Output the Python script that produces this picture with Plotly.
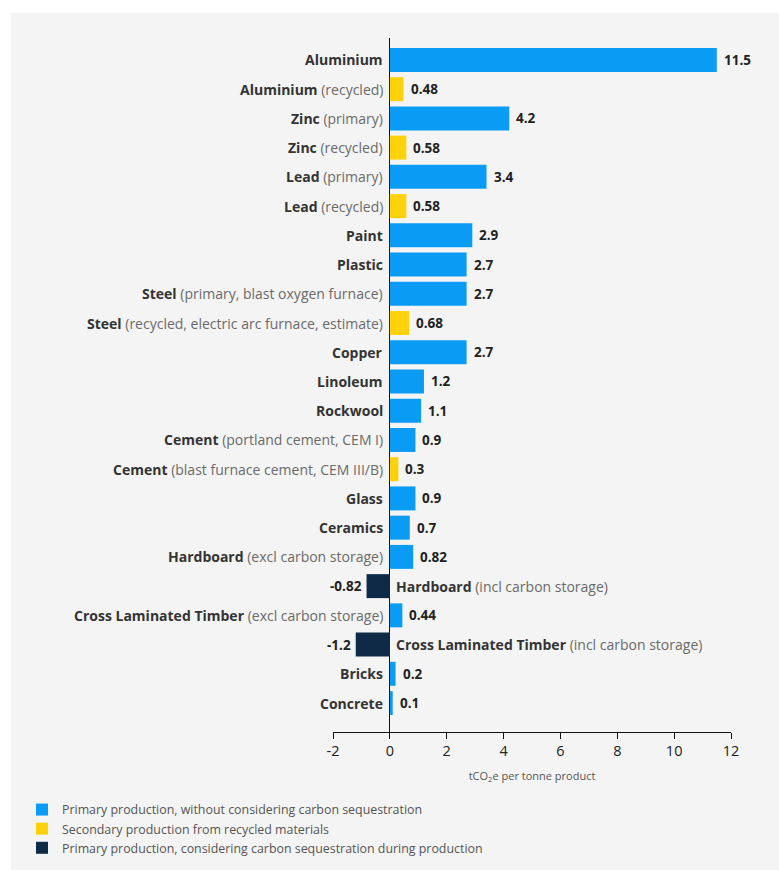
import plotly.graph_objects as go

names = ["Aluminium", "Aluminium", "Zinc", "Zinc", "Lead", "Lead", "Paint", "Plastic",
         "Steel", "Steel", "Copper", "Linoleum", "Rockwool", "Cement", "Cement",
         "Glass", "Ceramics", "Hardboard", "Hardboard", "Cross Laminated Timber",
         "Cross Laminated Timber", "Bricks", "Concrete"]
details = ["", "(recycled)", "(primary)", "(recycled)", "(primary)", "(recycled)", "", "",
           "(primary, blast oxygen furnace)", "(recycled, electric arc furnace, estimate)",
           "", "", "", "(portland cement, CEM I)", "(blast furnace cement, CEM III/B)",
           "", "", "(excl carbon storage)", "(incl carbon storage)", "(excl carbon storage)",
           "(incl carbon storage)", "", ""]
values = [11.5, 0.48, 4.2, 0.58, 3.4, 0.58, 2.9, 2.7, 2.7, 0.68, 2.7, 1.2, 1.1, 0.9, 0.3,
          0.9, 0.7, 0.82, -0.82, 0.44, -1.2, 0.2, 0.1]
groups = ["p", "s", "p", "s", "p", "s", "p", "p", "p", "s", "p", "p", "p", "p", "s",
          "p", "p", "p", "c", "p", "c", "p", "p"]

tick_vals = [-2, 0, 2, 4, 6, 8, 10, 12]
tick_text = ["-2", "0", "2", "4", "6", "8", "10", "12"]

group_names = {
    "p": "Primary production, without considering carbon sequestration",
    "s": "Secondary production from recycled materials",
    "c": "Primary production, considering carbon sequestration during production",
}
group_colors = {"p": "#0a9cf5", "s": "#fdd20a", "c": "#0e2a47"}

FONT = "Open Sans"
keys = [f"{n} {d}".strip() for n, d in zip(names, details)]

fig = go.Figure()
for g in ["p", "s", "c"]:
    idx = [i for i, gg in enumerate(groups) if gg == g]
    fig.add_trace(go.Bar(
        y=[keys[i] for i in idx],
        x=[values[i] for i in idx],
        orientation="h",
        name=group_names[g],
        marker=dict(color=group_colors[g], line=dict(width=0)),
        width=0.82,
        hoverinfo="skip",
    ))

annotations = []
for k, n, d, v in zip(keys, names, details, values):
    txt = f"<b>{n}</b>" + (f" <span style='color:#6a6a6a'>{d}</span>" if d else "")
    neg = v < 0
    annotations.append(dict(
        x=0, y=k, xref="x", yref="y", text=txt, showarrow=False,
        xanchor="left" if neg else "right", xshift=4 if neg else -5,
        font=dict(family=FONT, size=14, color="#333"),
    ))
    annotations.append(dict(
        x=v, y=k, xref="x", yref="y", text=f"<b>{v:g}</b>", showarrow=False,
        xanchor="right" if neg else "left", xshift=-3 if neg else 5,
        font=dict(family=FONT, size=13.5, color="#222"),
    ))

L, R, T, B = 333, 48, 38, 138
W, H = 779, 870
pw, ph = W - L - R, H - T - B

fig.update_layout(
    width=W, height=H,
    margin=dict(l=L, r=R, t=T, b=B, pad=0, autoexpand=False),
    paper_bgcolor="white",
    plot_bgcolor="rgba(0,0,0,0)",
    barmode="overlay",
    showlegend=True,
    legend=dict(
        x=(22 - L) / pw, y=(T + ph - 795) / ph, xanchor="left", yanchor="top",
        font=dict(family=FONT, size=12.4, color="#555"),
        bgcolor="rgba(0,0,0,0)", tracegroupgap=0, itemwidth=30,
        traceorder="normal",
    ),
    font=dict(family=FONT),
    annotations=annotations,
    shapes=[dict(
        type="rect", xref="paper", yref="paper", layer="below",
        x0=(11 - L) / pw, x1=(W + 5 - L) / pw,
        y0=(T + ph - H - 10) / ph, y1=(T + ph - 13) / ph,
        fillcolor="#f4f4f4", line=dict(width=0),
    )],
    xaxis=dict(
        range=[-2, 12], tickvals=tick_vals, ticktext=tick_text, showgrid=False,
        showline=True, linecolor="#111", linewidth=1,
        ticks="outside", ticklen=6, tickcolor="#111",
        zeroline=True, zerolinecolor="#111", zerolinewidth=1,
        tickfont=dict(family=FONT, size=14.5, color="#222"),
        automargin=False,
        title=dict(text="tCO<sub>2</sub>e per tonne product",
                   font=dict(family=FONT, size=11, color="#555"), standoff=12),
    ),
    yaxis=dict(
        type="category", categoryorder="array", categoryarray=keys,
        range=[len(keys) - 1 + 0.99, -0.75], automargin=False,
        showticklabels=False, showgrid=False, zeroline=False, showline=False,
    ),
)

fig.write_html("out.html")
